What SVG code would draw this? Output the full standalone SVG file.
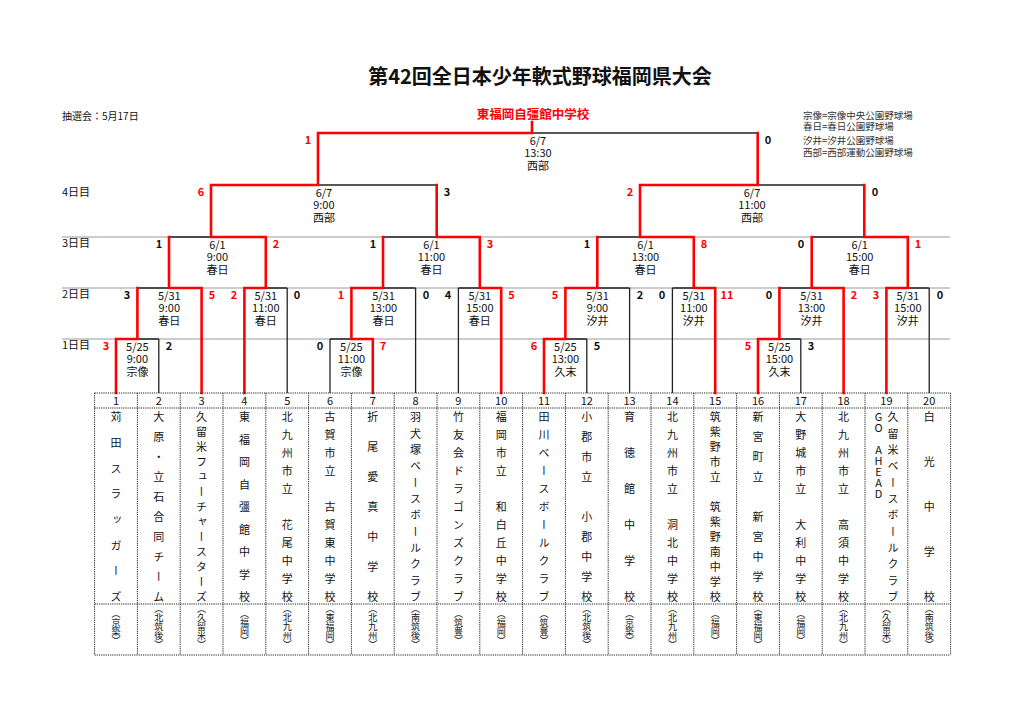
<svg xmlns="http://www.w3.org/2000/svg" width="1024" height="724" viewBox="0 0 1024 724">
<style>
text{font-family:"Noto Sans CJK JP","Liberation Sans",sans-serif;fill:#111}
.lbl{font-size:11px;text-anchor:middle}
.sc{font-size:11px;font-weight:bold;text-anchor:middle}
.w{fill:#f00}
.day{font-size:11px}
.gl{stroke:#999;stroke-width:1;fill:none}
.bk{stroke:#222;stroke-width:1.3;fill:none}
.rd{stroke:#f00;stroke-width:2.6;fill:none;stroke-linecap:square}
.tb{stroke:#222;stroke-width:1;stroke-dasharray:1.2 1;fill:none}
.num{font-size:11px;text-anchor:middle}
.nm{font-size:11px;writing-mode:vertical-rl;text-orientation:upright}
.rg{font-size:9px;writing-mode:vertical-rl;text-orientation:mixed}
.lg{font-size:9.5px;fill:#333}
</style>
<rect width="1024" height="724" fill="#fff"/>
<text x="540" y="84" style="font-size:20px;font-weight:bold;text-anchor:middle">第42回全日本少年軟式野球福岡県大会</text>
<text x="62" y="120" style="font-size:10px">抽選会：5月17日</text>
<text x="533" y="119" style="font-size:12.5px;font-weight:bold;text-anchor:middle;fill:#f00">東福岡自彊館中学校</text>
<g id="legend">
<text class="lg" x="803" y="119">宗像=宗像中央公園野球場</text>
<text class="lg" x="803" y="130">春日=春日公園野球場</text>
<text class="lg" x="803" y="144">汐井=汐井公園野球場</text>
<text class="lg" x="803" y="156">西部=西部運動公園野球場</text>
</g>
<g id="days">
<text class="day" x="62" y="196">4日目</text>
<text class="day" x="62" y="247">3日目</text>
<text class="day" x="62" y="298">2日目</text>
<text class="day" x="62" y="349">1日目</text>
<path class="gl" d="M62 237H950M62 288H950M62 339H950"/>
</g>
<g id="connectors">
<path class="bk" d="M137.4 339H158.8M137.4 288H169M265.8 288H287.2M169 237H211M330 339H351.4M383 288H415.6M458.4 288H479.8M383 237H436.7M318 185H436.7M565.4 339H586.8M597.3 288H629.6M672.4 288H693.8M597.3 237H640M779.4 339H800.8M779.4 288H811.7M907.8 288H929.2M811.7 237H864.3M757.7 185H864.3M532 133H757.7
M158.8 393V339M287.2 393V288M330 393V339M415.6 393V288M458.4 393V288M586.8 393V339M629.6 393V288M672.4 393V288M800.8 393V339M929.2 393V288"/>
<path class="rd" d="M116 393V339H137.4V288M201.6 393V288H169V237M244.4 393V288H265.8V237H211V185H318V133H532V122
M372.8 393V339H351.4V288H383V237M501.2 393V288H479.8V237H436.7V185
M544 393V339H565.4V288H597.3V237M715.2 393V288H693.8V237H640V185H757.7V133
M758 393V339H779.4V288M843.6 393V288H811.7V237M886.4 393V288H907.8V237H864.3V185"/>
</g>
<g id="m1"><text class="lbl" x="137.4" y="350.5">5/25</text><text class="lbl" x="137.4" y="363">9:00</text><text class="lbl" x="137.4" y="375.5">宗像</text><text class="sc w" x="106" y="350">3</text><text class="sc" x="169" y="350">2</text></g>
<g id="mA"><text class="lbl" x="169.3" y="299.5">5/31</text><text class="lbl" x="169.3" y="312">9:00</text><text class="lbl" x="169.3" y="324.5">春日</text><text class="sc" x="127" y="299">3</text><text class="sc w" x="212" y="299">5</text></g>
<g id="mB"><text class="lbl" x="265.8" y="299.5">5/31</text><text class="lbl" x="265.8" y="312">11:00</text><text class="lbl" x="265.8" y="324.5">春日</text><text class="sc w" x="234" y="299">2</text><text class="sc" x="297" y="299">0</text></g>
<g id="mP"><text class="lbl" x="217.4" y="248.5">6/1</text><text class="lbl" x="217.4" y="261">9:00</text><text class="lbl" x="217.4" y="273.5">春日</text><text class="sc" x="159" y="248">1</text><text class="sc w" x="276" y="248">2</text></g>
<g id="m2"><text class="lbl" x="351.4" y="350.5">5/25</text><text class="lbl" x="351.4" y="363">11:00</text><text class="lbl" x="351.4" y="375.5">宗像</text><text class="sc" x="320" y="350">0</text><text class="sc w" x="383" y="350">7</text></g>
<g id="mC"><text class="lbl" x="383.5" y="299.5">5/31</text><text class="lbl" x="383.5" y="312">13:00</text><text class="lbl" x="383.5" y="324.5">春日</text><text class="sc w" x="341" y="299">1</text><text class="sc" x="426" y="299">0</text></g>
<g id="mD"><text class="lbl" x="479.8" y="299.5">5/31</text><text class="lbl" x="479.8" y="312">15:00</text><text class="lbl" x="479.8" y="324.5">春日</text><text class="sc" x="448" y="299">4</text><text class="sc w" x="511.5" y="299">5</text></g>
<g id="mQ"><text class="lbl" x="431.4" y="248.5">6/1</text><text class="lbl" x="431.4" y="261">11:00</text><text class="lbl" x="431.4" y="273.5">春日</text><text class="sc" x="373" y="248">1</text><text class="sc w" x="490" y="248">3</text></g>
<g id="mR"><text class="lbl" x="323.9" y="196.5">6/7</text><text class="lbl" x="323.9" y="209">9:00</text><text class="lbl" x="323.9" y="221.5">西部</text><text class="sc w" x="201" y="196">6</text><text class="sc" x="447" y="196">3</text></g>
<g id="m3"><text class="lbl" x="565.4" y="350.5">5/25</text><text class="lbl" x="565.4" y="363">13:00</text><text class="lbl" x="565.4" y="375.5">久末</text><text class="sc w" x="534" y="350">6</text><text class="sc" x="597" y="350">5</text></g>
<g id="mE"><text class="lbl" x="597.5" y="299.5">5/31</text><text class="lbl" x="597.5" y="312">9:00</text><text class="lbl" x="597.5" y="324.5">汐井</text><text class="sc w" x="555" y="299">5</text><text class="sc" x="640" y="299">2</text></g>
<g id="mF"><text class="lbl" x="693.8" y="299.5">5/31</text><text class="lbl" x="693.8" y="312">11:00</text><text class="lbl" x="693.8" y="324.5">汐井</text><text class="sc" x="662" y="299">0</text><text class="sc w" x="727" y="299">11</text></g>
<g id="mT"><text class="lbl" x="645.5" y="248.5">6/1</text><text class="lbl" x="645.5" y="261">13:00</text><text class="lbl" x="645.5" y="273.5">春日</text><text class="sc" x="587" y="248">1</text><text class="sc w" x="704" y="248">8</text></g>
<g id="m4"><text class="lbl" x="779.4" y="350.5">5/25</text><text class="lbl" x="779.4" y="363">15:00</text><text class="lbl" x="779.4" y="375.5">久末</text><text class="sc w" x="748" y="350">5</text><text class="sc" x="811" y="350">3</text></g>
<g id="mG"><text class="lbl" x="811.5" y="299.5">5/31</text><text class="lbl" x="811.5" y="312">13:00</text><text class="lbl" x="811.5" y="324.5">汐井</text><text class="sc" x="769" y="299">0</text><text class="sc w" x="854" y="299">2</text></g>
<g id="mH"><text class="lbl" x="907.8" y="299.5">5/31</text><text class="lbl" x="907.8" y="312">15:00</text><text class="lbl" x="907.8" y="324.5">汐井</text><text class="sc w" x="876" y="299">3</text><text class="sc" x="940" y="299">0</text></g>
<g id="mU"><text class="lbl" x="859.7" y="248.5">6/1</text><text class="lbl" x="859.7" y="261">15:00</text><text class="lbl" x="859.7" y="273.5">春日</text><text class="sc" x="801" y="248">0</text><text class="sc w" x="918" y="248">1</text></g>
<g id="mS"><text class="lbl" x="752" y="196.5">6/7</text><text class="lbl" x="752" y="209">11:00</text><text class="lbl" x="752" y="221.5">西部</text><text class="sc w" x="630" y="196">2</text><text class="sc" x="875" y="196">0</text></g>
<g id="final"><text class="lbl" x="537.9" y="144.5">6/7</text><text class="lbl" x="537.9" y="157">13:30</text><text class="lbl" x="537.9" y="169.5">西部</text><text class="sc w" x="308" y="144">1</text><text class="sc" x="768" y="144">0</text></g>
<g id="table">
<path class="tb" d="M94.6 393H950.6M94.6 408H950.6M94.6 604H950.6M94.6 655H950.6
M94.6 393V655M137.4 393V655M180.2 393V655M223 393V655M265.8 393V655M308.6 393V655M351.4 393V655M394.2 393V655M437 393V655M479.8 393V655M522.6 393V655M565.4 393V655M608.2 393V655M651 393V655M693.8 393V655M736.6 393V655M779.4 393V655M822.2 393V655M865 393V655M907.8 393V655M950.6 393V655"/>
<text class="num" x="116" y="405">1</text><text class="num" x="158.8" y="405">2</text><text class="num" x="201.6" y="405">3</text><text class="num" x="244.4" y="405">4</text><text class="num" x="287.2" y="405">5</text><text class="num" x="330" y="405">6</text><text class="num" x="372.8" y="405">7</text><text class="num" x="415.6" y="405">8</text><text class="num" x="458.4" y="405">9</text><text class="num" x="501.2" y="405">10</text><text class="num" x="544" y="405">11</text><text class="num" x="586.8" y="405">12</text><text class="num" x="629.6" y="405">13</text><text class="num" x="672.4" y="405">14</text><text class="num" x="715.2" y="405">15</text><text class="num" x="758" y="405">16</text><text class="num" x="800.8" y="405">17</text><text class="num" x="843.6" y="405">18</text><text class="num" x="886.4" y="405">19</text><text class="num" x="929.2" y="405">20</text>
</g>
<g id="teams">
<text class="nm" x="116" y="411.5" style="letter-spacing:14.7px">苅田スラッガーズ</text>
<text class="nm" x="158.8" y="411.5" style="letter-spacing:9px">大原・立石合同チーム</text>
<text class="nm" x="201.6" y="411.5" style="letter-spacing:4px">久留米フューチャースターズ</text>
<text class="nm" x="244.4" y="411.5" style="letter-spacing:11.5px">東福岡自彊館中学校</text>
<text class="nm" x="287.2" y="411.5" style="letter-spacing:7px">北九州市立　花尾中学校</text>
<text class="nm" x="330" y="411.5" style="letter-spacing:7px">古賀市立　古賀東中学校</text>
<text class="nm" x="372.8" y="411.5" style="letter-spacing:19px">折尾愛真中学校</text>
<text class="nm" x="415.6" y="411.5" style="letter-spacing:5.36px">羽犬塚ベースボールクラブ</text>
<text class="nm" x="458.4" y="411.5" style="letter-spacing:7px">竹友会ドラゴンズクラブ</text>
<text class="nm" x="501.2" y="411.5" style="letter-spacing:7px">福岡市立　和白丘中学校</text>
<text class="nm" x="544" y="411.5" style="letter-spacing:7px">田川ベースボールクラブ</text>
<text class="nm" x="586.8" y="411.5" style="letter-spacing:9px">小郡市立　小郡中学校</text>
<text class="nm" x="629.6" y="411.5" style="letter-spacing:25px">育徳館中学校</text>
<text class="nm" x="672.4" y="411.5" style="letter-spacing:7px">北九州市立　洞北中学校</text>
<text class="nm" x="715.2" y="411.5" style="letter-spacing:4px">筑紫野市立　筑紫野南中学校</text>
<text class="nm" x="758" y="411.5" style="letter-spacing:9px">新宮町立　新宮中学校</text>
<text class="nm" x="800.8" y="411.5" style="letter-spacing:7px">大野城市立　大利中学校</text>
<text class="nm" x="843.6" y="411.5" style="letter-spacing:7px">北九州市立　高須中学校</text>
<text class="nm" x="878.5" y="411.5">GO AHEAD</text>
<text class="nm" x="893" y="411.5" style="letter-spacing:5.36px">久留米ベースボールクラブ</text>
<text class="nm" x="929.2" y="411.5" style="letter-spacing:34px">白光中学校</text>
</g>
<g id="regions">
<text class="rg" x="116" y="609">（京築）</text>
<text class="rg" x="158.8" y="604">（北筑後）</text>
<text class="rg" x="201.6" y="604">（久留米）</text>
<text class="rg" x="244.4" y="609">（福岡）</text>
<text class="rg" x="287.2" y="604">（北九州）</text>
<text class="rg" x="330" y="604">（東福岡）</text>
<text class="rg" x="372.8" y="604">（北九州）</text>
<text class="rg" x="415.6" y="604">（南筑後）</text>
<text class="rg" x="458.4" y="609">（筑豊）</text>
<text class="rg" x="501.2" y="609">（福岡）</text>
<text class="rg" x="544" y="609">（筑豊）</text>
<text class="rg" x="586.8" y="604">（北筑後）</text>
<text class="rg" x="629.6" y="609">（京築）</text>
<text class="rg" x="672.4" y="604">（北九州）</text>
<text class="rg" x="715.2" y="609">（福岡）</text>
<text class="rg" x="758" y="604">（東福岡）</text>
<text class="rg" x="800.8" y="609">（福岡）</text>
<text class="rg" x="843.6" y="604">（北九州）</text>
<text class="rg" x="886.4" y="604">（久留米）</text>
<text class="rg" x="929.2" y="604">（南筑後）</text>
</g>
</svg>
